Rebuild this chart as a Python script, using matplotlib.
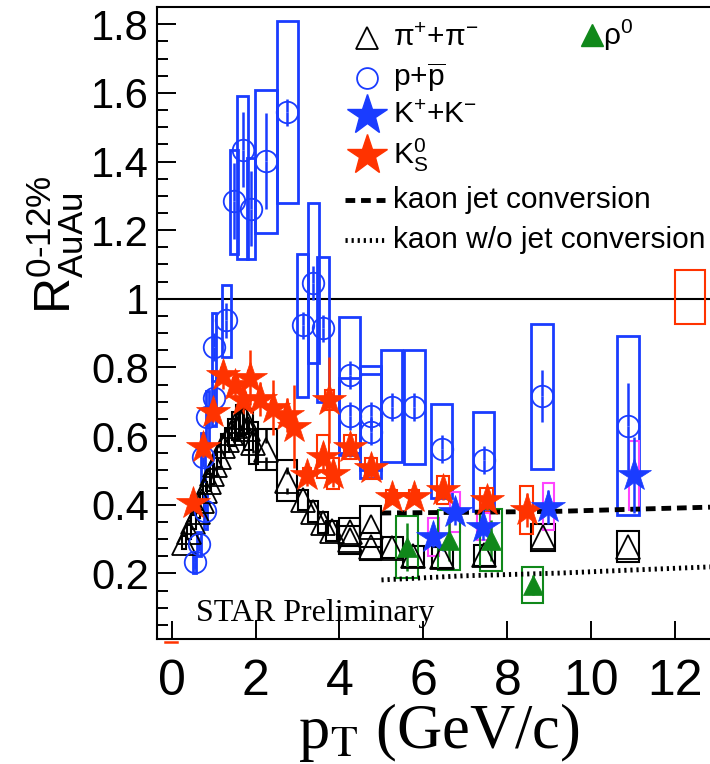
import matplotlib
matplotlib.use("Agg")
import matplotlib.pyplot as plt
from matplotlib.patches import Rectangle
from matplotlib.ticker import MultipleLocator, FormatStrFormatter

plt.rcParams["font.family"] = ["Liberation Sans", "DejaVu Sans"]
plt.rcParams["mathtext.fontset"] = "custom"
plt.rcParams["mathtext.rm"] = "Liberation Sans"
plt.rcParams["mathtext.it"] = "Liberation Sans:italic"
plt.rcParams["mathtext.bf"] = "Liberation Sans:bold"
plt.rcParams["mathtext.sf"] = "Liberation Sans"

# pi+ + pi-  (open black triangles)
pi_x = [0.30, 0.42, 0.52, 0.62, 0.72, 0.80, 0.88, 0.96, 1.04, 1.12, 1.22, 1.32, 1.42, 1.52, 1.62, 1.72, 1.83,
        1.95, 2.26, 2.74, 3.12, 3.37, 3.61, 3.81, 4.25, 4.25, 4.75, 4.75, 5.26, 5.76, 6.45, 7.45, 8.85, 10.88]
pi_y = [0.29, 0.32, 0.35, 0.38, 0.41, 0.44, 0.465, 0.49, 0.515, 0.54, 0.57, 0.59, 0.61, 0.63, 0.645, 0.655, 0.62,
        0.58, 0.56, 0.47, 0.414, 0.38, 0.348, 0.324, 0.321, 0.297, 0.336, 0.278, 0.275, 0.25, 0.247, 0.253, 0.305, 0.278]
pi_stat = [0, 0, 0, 0, 0, 0, 0, 0, 0, 0, 0, 0, 0, 0, 0, 0, 0.03, 0.03, 0.06, 0.04, 0, 0, 0, 0, 0, 0, 0, 0,
           0, 0, 0, 0, 0, 0]
pi_sys = [0.02, 0.02, 0.02, 0.02, 0.025, 0.025, 0.025, 0.03, 0.03, 0.03, 0.035, 0.035, 0.04, 0.04, 0.045, 0.05, 0.06,
          0.06, 0.06, 0.06, 0.03, 0.03, 0.03, 0.03, 0.04, 0.04, 0.06, 0.04, 0.03, 0.03, 0.03, 0.03, 0.04, 0.045]
pi_dx = [0.05, 0.05, 0.05, 0.05, 0.05, 0.05, 0.05, 0.05, 0.05, 0.05, 0.05, 0.05, 0.08, 0.08, 0.08, 0.08, 0.1,
         0.1, 0.24, 0.24, 0.12, 0.12, 0.12, 0.12, 0.25, 0.25, 0.25, 0.25, 0.25, 0.25, 0.25, 0.25, 0.28, 0.26]

# p + pbar  (open blue circles)
p_x = [0.55, 0.65, 0.80, 0.75, 0.85, 1.00, 1.00, 1.30, 1.49, 1.69, 1.89, 2.25, 2.76, 3.12, 3.375, 3.61,
       4.25, 4.25, 4.75, 4.75, 5.24, 5.78, 6.44, 7.44, 8.82, 10.87]
p_y = [0.232, 0.285, 0.382, 0.54, 0.656, 0.71, 0.86, 0.937, 1.285, 1.435, 1.263, 1.401, 1.543, 0.923, 1.047, 0.914,
       0.778, 0.658, 0.658, 0.613, 0.685, 0.685, 0.562, 0.530, 0.717, 0.629]
p_stat = [0.02, 0.02, 0.02, 0.03, 0.03, 0.03, 0.04, 0.05, 0.11, 0.11, 0.11, 0.14, 0.04, 0.04, 0.05, 0.04,
          0.04, 0.04, 0.04, 0.04, 0.04, 0.04, 0.04, 0.04, 0.075, 0.127]
p_lo = [0.20, 0.25, 0.33, 0.47, 0.58, 0.63, 0.76, 0.83, 1.13, 1.116, 1.115, 1.192, 1.278, 0.715, 0.812, 0.70,
        0.545, 0.55, 0.477, 0.50, 0.525, 0.518, 0.421, 0.382, 0.503, 0.370]
p_hi = [0.26, 0.32, 0.43, 0.61, 0.73, 0.79, 0.96, 1.04, 1.433, 1.59, 1.409, 1.608, 1.809, 1.13, 1.28, 1.122,
        0.948, 0.77, 0.804, 0.78, 0.85, 0.85, 0.695, 0.671, 0.928, 0.891]
p_dx = [0.04, 0.04, 0.04, 0.04, 0.04, 0.05, 0.05, 0.11, 0.09, 0.13, 0.09, 0.26, 0.25, 0.125, 0.13, 0.135,
        0.25, 0.25, 0.25, 0.25, 0.25, 0.25, 0.25, 0.25, 0.26, 0.26]

# K+ + K-  (blue stars, magenta boxes)
kpm_x = [6.24, 6.75, 7.43, 8.98, 11.02]
kpm_y = [0.307, 0.380, 0.336, 0.394, 0.486]
kpm_stat = [0.03, 0.04, 0.04, 0.05, 0.11]
kpm_sys = [0.055, 0.058, 0.04, 0.068, 0.10]
kpm_dx = [0.12, 0.12, 0.15, 0.14, 0.12]

# K0s  (red stars)
k0_x = [0.51, 0.75, 0.99, 1.22, 1.52, 1.71, 1.87, 2.10, 2.42, 2.74, 2.92, 3.22, 3.61, 3.76, 3.85,
        4.25, 4.75, 5.24, 5.78, 6.47, 7.51, 8.46]
k0_y = [0.405, 0.569, 0.67, 0.778, 0.75, 0.705, 0.77, 0.708, 0.683, 0.661, 0.628, 0.486, 0.540, 0.705, 0.491,
        0.569, 0.506, 0.423, 0.423, 0.443, 0.414, 0.385]
k0_stat = [0.03, 0.03, 0.03, 0.04, 0.04, 0.04, 0.08, 0.05, 0.08, 0.05, 0.12, 0.03, 0.04, 0.125, 0.04,
           0.03, 0.03, 0.02, 0.02, 0.03, 0.03, 0.05]
k0_sys = [0.02, 0.02, 0.02, 0.02, 0.02, 0.02, 0.02, 0.02, 0.02, 0.02, 0.02, 0.02, 0.063, 0.03, 0.046,
          0.035, 0.03, 0.02, 0.02, 0.041, 0.036, 0.07]
k0_dx = [0.05, 0.05, 0.05, 0.05, 0.05, 0.05, 0.05, 0.05, 0.05, 0.05, 0.05, 0.1, 0.14, 0.1, 0.14,
         0.15, 0.15, 0.12, 0.12, 0.15, 0.15, 0.15]

# rho0  (green filled triangles)
rho_x = [5.60, 6.61, 7.61, 8.60]
rho_y = [0.278, 0.297, 0.297, 0.166]
rho_stat = [0.07, 0.06, 0.06, 0.03]
rho_sys = [0.09, 0.087, 0.09, 0.052]
rho_dx = [0.26, 0.27, 0.26, 0.26]

# kaon model curves
jet_x = [5.0, 7.0, 9.26, 11.0, 12.83]
jet_y = [0.376, 0.378, 0.381, 0.387, 0.393]
nojet_x = [5.0, 6.95, 9.26, 11.0, 12.83]
nojet_y = [0.181, 0.193, 0.201, 0.210, 0.219]

BLACK = "black"
BLUE = "#1a3cff"
RED = "#ff3300"
GREEN = "#10881a"
MAGENTA = "#ff44ff"

fig = plt.figure(figsize=(7.1, 7.64), dpi=100)
ax = fig.add_axes([0.2215, 0.1632, 0.7785, 0.828])
ax.set_xlim(-0.343, 12.83)
ax.set_ylim(0.008, 1.851)


def boxes(xs, lo, hi, dx, color, lw=1.6, z=2):
	for xi, l, h, d in zip(xs, lo, hi, dx):
		ax.add_patch(Rectangle((xi - d, l), 2 * d, h - l, fill=False, ec=color, lw=lw, zorder=z))


def stat_bars(xs, ys, err, color, gap, lw=1.8, z=3):
	for xi, yi, e in zip(xs, ys, err):
		if e > gap:
			ax.plot([xi, xi], [yi + gap, yi + e], color=color, lw=lw, zorder=z, solid_capstyle="butt")
			ax.plot([xi, xi], [yi - e, yi - gap], color=color, lw=lw, zorder=z, solid_capstyle="butt")


ax.axhline(1.0, color="black", lw=1.5, zorder=1)

# systematic boxes
boxes(pi_x, [y - s for y, s in zip(pi_y, pi_sys)], [y + s for y, s in zip(pi_y, pi_sys)], pi_dx, BLACK, lw=1.5)
boxes(p_x, p_lo, p_hi, p_dx, BLUE, lw=2.0)
boxes(k0_x, [y - s for y, s in zip(k0_y, k0_sys)], [y + s for y, s in zip(k0_y, k0_sys)], k0_dx, RED, lw=1.5)
boxes(kpm_x, [y - s for y, s in zip(kpm_y, kpm_sys)], [y + s for y, s in zip(kpm_y, kpm_sys)], kpm_dx, MAGENTA, lw=1.5)
boxes(rho_x, [y - s for y, s in zip(rho_y, rho_sys)], [y + s for y, s in zip(rho_y, rho_sys)], rho_dx, GREEN, lw=1.5)

# model curves
ax.plot(jet_x, jet_y, color="black", lw=3.5, dashes=(2.0, 1.2), zorder=2.5)
ax.plot(nojet_x, nojet_y, color="black", lw=3.5, dashes=(0.45, 0.8), zorder=2.5)

# statistical errors
stat_bars(pi_x, pi_y, pi_stat, BLACK, 0.02)
stat_bars(p_x, p_y, p_stat, BLUE, 0.0)
stat_bars(k0_x, k0_y, k0_stat, RED, 0.0)
stat_bars(kpm_x, kpm_y, kpm_stat, BLUE, 0.0)
stat_bars(rho_x, rho_y, rho_stat, GREEN, 0.0)

# markers
ax.plot(pi_x, pi_y, ls="none", marker="^", ms=17, mfc="none", mec=BLACK, mew=1.3, zorder=4)
ax.plot(p_x, p_y, ls="none", marker="o", ms=15.5, mfc="none", mec=BLUE, mew=1.3, zorder=4)
ax.plot(k0_x, k0_y, ls="none", marker="*", ms=25, mfc=RED, mec=RED, mew=0.5, zorder=5)
ax.plot(kpm_x, kpm_y, ls="none", marker="*", ms=25, mfc=BLUE, mec=BLUE, mew=0.5, zorder=5)
ax.plot(rho_x, rho_y, ls="none", marker="^", ms=15, mfc=GREEN, mec=GREEN, mew=0.5, zorder=5)

# normalisation uncertainty boxes
ax.add_patch(Rectangle((12.0, 0.926), 0.71, 0.159, fill=False, ec=RED, lw=1.5, zorder=2))
ax.plot([-0.15, 0.12], [0.0, 0.0], color=RED, lw=1.8, clip_on=False)

# axes styling
for side in ("left", "bottom", "top"):
	ax.spines[side].set_linewidth(1.5)
ax.spines["right"].set_visible(False)
ax.xaxis.set_major_locator(MultipleLocator(2))
ax.yaxis.set_major_locator(MultipleLocator(0.2))
ax.yaxis.set_minor_locator(MultipleLocator(0.05))
ax.yaxis.set_major_formatter(FormatStrFormatter("%g"))
ax.tick_params(axis="y", which="major", direction="in", length=14, width=1.4, labelsize=30, pad=6)
ax.tick_params(axis="y", which="minor", direction="in", length=8, width=1.4)
ax.tick_params(axis="x", which="major", direction="in", length=13, width=1.4, labelsize=36, pad=14)

# legend (drawn by hand)
leg_mx = 0.379
leg_tx = 0.427
leg_fs = 21.5
kw = dict(transform=ax.transAxes, clip_on=False, ls="none")
ax.plot([leg_mx], [0.950], marker="^", ms=16, mfc="none", mec=BLACK, mew=1.3, **kw)
ax.plot([leg_mx], [0.887], marker="o", ms=15, mfc="none", mec=BLUE, mew=1.3, **kw)
ax.plot([leg_mx], [0.829], marker="*", ms=30, mfc=BLUE, mec=BLUE, **kw)
ax.plot([leg_mx], [0.765], marker="*", ms=30, mfc=RED, mec=RED, **kw)
ax.plot([0.340, 0.412], [0.694, 0.694], color="black", lw=3.5, dashes=(2.0, 1.2), transform=ax.transAxes, clip_on=False)
ax.plot([0.340, 0.412], [0.632, 0.632], color="black", lw=3.5, dashes=(0.45, 0.8), transform=ax.transAxes, clip_on=False)
ax.plot([0.786], [0.955], marker="^", ms=16, mfc=GREEN, mec=GREEN, **kw)

ax.text(leg_tx, 0.950, "π$^{+}$+π$^{-}$", transform=ax.transAxes, fontsize=leg_fs, va="center")
ax.text(leg_tx, 0.887, r"p+$\overline{\mathrm{p}}$", transform=ax.transAxes, fontsize=leg_fs, va="center")
ax.text(leg_tx, 0.829, r"K$^{+}$+K$^{-}$", transform=ax.transAxes, fontsize=leg_fs, va="center")
ax.text(leg_tx, 0.765, r"K$^{0}_{\mathrm{S}}$", transform=ax.transAxes, fontsize=leg_fs, va="center")
ax.text(leg_tx, 0.694, "kaon jet conversion", transform=ax.transAxes, fontsize=leg_fs, va="center")
ax.text(leg_tx, 0.632, "kaon w/o jet conversion", transform=ax.transAxes, fontsize=leg_fs, va="center")
ax.text(0.806, 0.955, "ρ$^{0}$", transform=ax.transAxes, fontsize=leg_fs, va="center")

ax.text(0.58, 0.061, "STAR Preliminary", fontsize=23, family="Liberation Serif", va="baseline")

fig.text(55 / 710, 1 - 245 / 764, r"$\mathrm{R}^{\mathrm{0\text{-}12\%}}_{\mathrm{AuAu}}$", fontsize=36,
		 rotation=90, ha="center", va="center")
fig.text(439 / 710, 1 - 733 / 764, r"p$_{\mathrm{T}}$ (GeV/c)", fontsize=45, family="Liberation Serif",
		 math_fontfamily="stix", ha="center", va="center")

fig.savefig("out.png", dpi=100)
